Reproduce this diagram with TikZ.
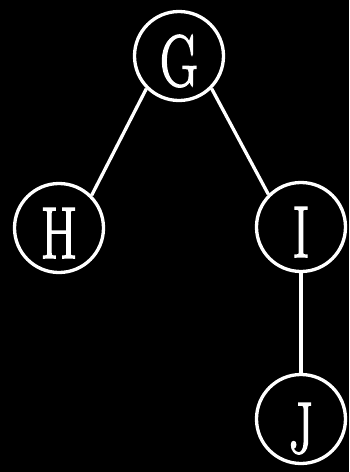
\documentclass[tikz,border=0pt]{standalone}
\usepackage{graphicx}
\usepackage{fontspec}
\newfontfamily\letterfont[BoldFont={Latin Modern Roman}, BoldFeatures={FakeBold=2.2}]{Latin Modern Roman}

\newcommand{\treeletter}[1]{\scalebox{0.72}[1]{\bfseries #1}}

\begin{document}
\begin{tikzpicture}[
        x=1pt, y=-1pt,
        vertex/.style={circle, draw=white, line width=3.3pt, minimum size=89pt, inner sep=0pt,
            text=white, font=\letterfont\fontsize{73}{80}\selectfont, text height=60pt, text depth=0pt},
        edge/.style={white, line width=3.3pt}
    ]
        % Background
        \fill[black] (0,0) rectangle (349,472);
        \useasboundingbox (0,0) rectangle (349,472);

        % Nodes
        \node[vertex] (g) at (179, 56)  {\treeletter{G}};
        \node[vertex] (h) at (59, 228)  {\treeletter{H}};
        \node[vertex] (i) at (301, 227) {\treeletter{I}};
        \node[vertex] (j) at (301, 419) {\raisebox{-4pt}{\treeletter{J}}};

        % Edges
        \draw[edge] (g.south west) -- (h.north east);
        \draw[edge] (g.south east) -- (i.north west);
        \draw[edge] (i.south) -- (j.north);
    \end{tikzpicture}
\end{document}
